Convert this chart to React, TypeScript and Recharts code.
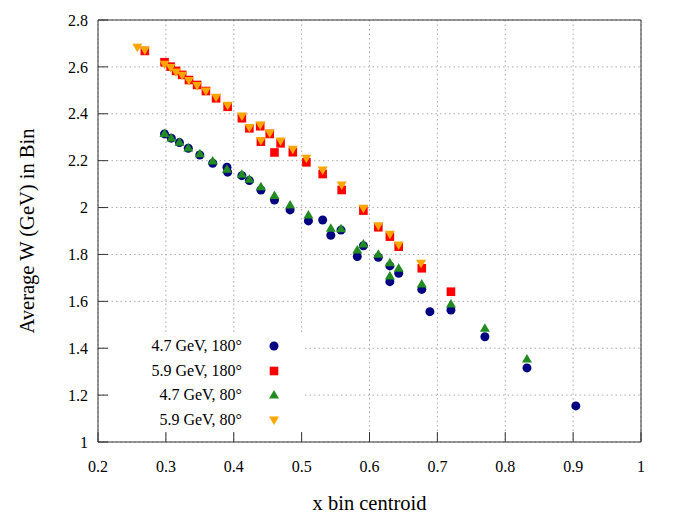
import {
  CartesianGrid,
  Legend,
  Scatter,
  ScatterChart,
  XAxis,
  YAxis,
} from 'recharts';

type Pt = [number, number];

const xTicks = [0.2, 0.3, 0.4, 0.5, 0.6, 0.7, 0.8, 0.9, 1];
const yTicks = [1, 1.2, 1.4, 1.6, 1.8, 2, 2.2, 2.4, 2.6, 2.8];

// 4.7 GeV, 180 deg
const w47_180: Pt[] = [
  [0.298, 2.314], [0.308, 2.296], [0.32, 2.277], [0.333, 2.253], [0.35, 2.224],
  [0.369, 2.189], [0.39, 2.172], [0.391, 2.151], [0.412, 2.136], [0.423, 2.115],
  [0.44, 2.075], [0.46, 2.032], [0.483, 1.99], [0.51, 1.943], [0.531, 1.947],
  [0.543, 1.882], [0.558, 1.904], [0.582, 1.791], [0.591, 1.837], [0.613, 1.788],
  [0.63, 1.751], [0.63, 1.684], [0.643, 1.72], [0.677, 1.651], [0.689, 1.556],
  [0.72, 1.563], [0.77, 1.449], [0.832, 1.316], [0.904, 1.154],
];

// 5.9 GeV, 180 deg
const w59_180: Pt[] = [
  [0.269, 2.668], [0.298, 2.62], [0.307, 2.601], [0.315, 2.583], [0.324, 2.566],
  [0.334, 2.544], [0.346, 2.523], [0.359, 2.497], [0.374, 2.466], [0.391, 2.43],
  [0.412, 2.381], [0.423, 2.338], [0.439, 2.347], [0.44, 2.281], [0.453, 2.314],
  [0.46, 2.235], [0.469, 2.274], [0.487, 2.236], [0.507, 2.193], [0.531, 2.143],
  [0.559, 2.075], [0.591, 1.987], [0.613, 1.916], [0.63, 1.876], [0.643, 1.833],
  [0.677, 1.741], [0.72, 1.641],
];

// 4.7 GeV, 80 deg
const w47_80: Pt[] = [
  [0.298, 2.316], [0.308, 2.297], [0.32, 2.279], [0.333, 2.254], [0.35, 2.229],
  [0.369, 2.199], [0.39, 2.163], [0.412, 2.142], [0.423, 2.121], [0.44, 2.089],
  [0.46, 2.051], [0.483, 2.011], [0.51, 1.968], [0.543, 1.912], [0.558, 1.91],
  [0.582, 1.819], [0.591, 1.845], [0.613, 1.801], [0.63, 1.765], [0.63, 1.708],
  [0.643, 1.741], [0.677, 1.674], [0.72, 1.589], [0.77, 1.485], [0.832, 1.354],
];

// 5.9 GeV, 80 deg
const w59_80: Pt[] = [
  [0.258, 2.684], [0.269, 2.672], [0.298, 2.611], [0.307, 2.597], [0.315, 2.578],
  [0.324, 2.564], [0.334, 2.542], [0.346, 2.521], [0.359, 2.497], [0.374, 2.47],
  [0.391, 2.436], [0.412, 2.391], [0.423, 2.342], [0.439, 2.352], [0.44, 2.286],
  [0.453, 2.318], [0.469, 2.284], [0.487, 2.249], [0.507, 2.21], [0.531, 2.16],
  [0.559, 2.096], [0.591, 1.997], [0.613, 1.922], [0.63, 1.886], [0.643, 1.84],
  [0.676, 1.762],
];

const FONT = '"Liberation Serif", "Times New Roman", serif';
const AXIS = '#333';

const toXY = (pts: Pt[]) => pts.map(([x, y]) => ({ x, y }));

const Marker = ({ kind, cx, cy, color }: { kind: string; cx: number; cy: number; color: string }) => {
  if (kind === 'circle') return <circle cx={cx} cy={cy} r={4.5} fill={color} />;
  if (kind === 'square')
    return <rect x={cx - 4.3} y={cy - 4.3} width={8.6} height={8.6} fill={color} />;
  if (kind === 'up')
    return (
      <polygon
        points={`${cx},${cy - 5} ${cx - 5},${cy + 3.5} ${cx + 5},${cy + 3.5}`}
        fill={color}
      />
    );
  return (
    <polygon
      points={`${cx},${cy + 5} ${cx - 5},${cy - 3.5} ${cx + 5},${cy - 3.5}`}
      fill={color}
    />
  );
};

const series = [
  { name: '4.7 GeV, 180°', data: w47_180, color: '#000080', kind: 'circle' },
  { name: '5.9 GeV, 180°', data: w59_180, color: '#ff0000', kind: 'square' },
  { name: '4.7 GeV, 80°', data: w47_80, color: '#228b22', kind: 'up' },
  { name: '5.9 GeV, 80°', data: w59_80, color: '#ffa500', kind: 'down' },
];

const renderLegend = () => (
  <div style={{ fontFamily: FONT, fontSize: 16, color: '#000' }}>
    {series.map((s) => (
      <div key={s.name} style={{ display: 'flex', alignItems: 'center', height: 24.5 }}>
        <span style={{ width: 134, textAlign: 'right', whiteSpace: 'nowrap' }}>{s.name}</span>
        <svg width={12} height={12} style={{ marginLeft: 25.5 }}>
          <Marker kind={s.kind} cx={6} cy={6} color={s.color} />
        </svg>
      </div>
    ))}
  </div>
);

export default function App() {
  return (
    <div style={{ position: 'absolute', left: 0, top: 0, width: 692, height: 519, background: '#fff' }}>
      <ScatterChart width={692} height={519} margin={{ top: 19, right: 50, bottom: 0, left: 0 }}>
        <CartesianGrid
          xAxisId="x"
          yAxisId="y"
          stroke="#aaa"
          strokeDasharray="1.5 3"
        />
        <XAxis
          xAxisId="x"
          dataKey="x"
          type="number"
          domain={[0.2, 1]}
          ticks={xTicks}
          allowDataOverflow
          height={77}
          tickSize={-10}
          tickMargin={29}
          stroke={AXIS}
          tick={{ fill: '#000', fontSize: 16, fontFamily: FONT }}
          label={{
            value: 'x bin centroid',
            position: 'insideBottom',
            offset: 9,
            fill: '#000',
            fontSize: 20.5,
            fontFamily: FONT,
          }}
        />
        <XAxis
          xAxisId="top"
          orientation="top"
          type="number"
          domain={[0.2, 1]}
          ticks={xTicks}
          allowDataOverflow
          height={1}
          tickSize={-10}
          tick={false}
          stroke={AXIS}
        />
        <YAxis
          yAxisId="y"
          dataKey="y"
          type="number"
          domain={[1, 2.8]}
          ticks={yTicks}
          allowDataOverflow
          width={98}
          tickSize={-10}
          tickMargin={20}
          stroke={AXIS}
          tick={{ fill: '#000', fontSize: 16, fontFamily: FONT }}
          label={{
            value: 'Average W (GeV) in Bin',
            angle: -90,
            position: 'insideLeft',
            offset: 27,
            fill: '#000',
            fontSize: 20.5,
            fontFamily: FONT,
            style: { textAnchor: 'middle' },
          }}
        />
        <YAxis
          yAxisId="right"
          orientation="right"
          type="number"
          domain={[1, 2.8]}
          ticks={yTicks}
          allowDataOverflow
          width={1}
          tickSize={-10}
          tick={false}
          stroke={AXIS}
        />
        <Legend
          layout="vertical"
          align="center"
          verticalAlign="middle"
          content={renderLegend}
          wrapperStyle={{ left: 108, top: 334, width: 195, height: 98, background: '#fff' }}
        />
        {series.map((s) => (
          <Scatter
            key={s.name}
            name={s.name}
            xAxisId="x"
            yAxisId="y"
            data={toXY(s.data)}
            fill={s.color}
            isAnimationActive={false}
            shape={(p: any) => <Marker kind={s.kind} cx={p.cx} cy={p.cy} color={s.color} />}
          />
        ))}
      </ScatterChart>
    </div>
  );
}
